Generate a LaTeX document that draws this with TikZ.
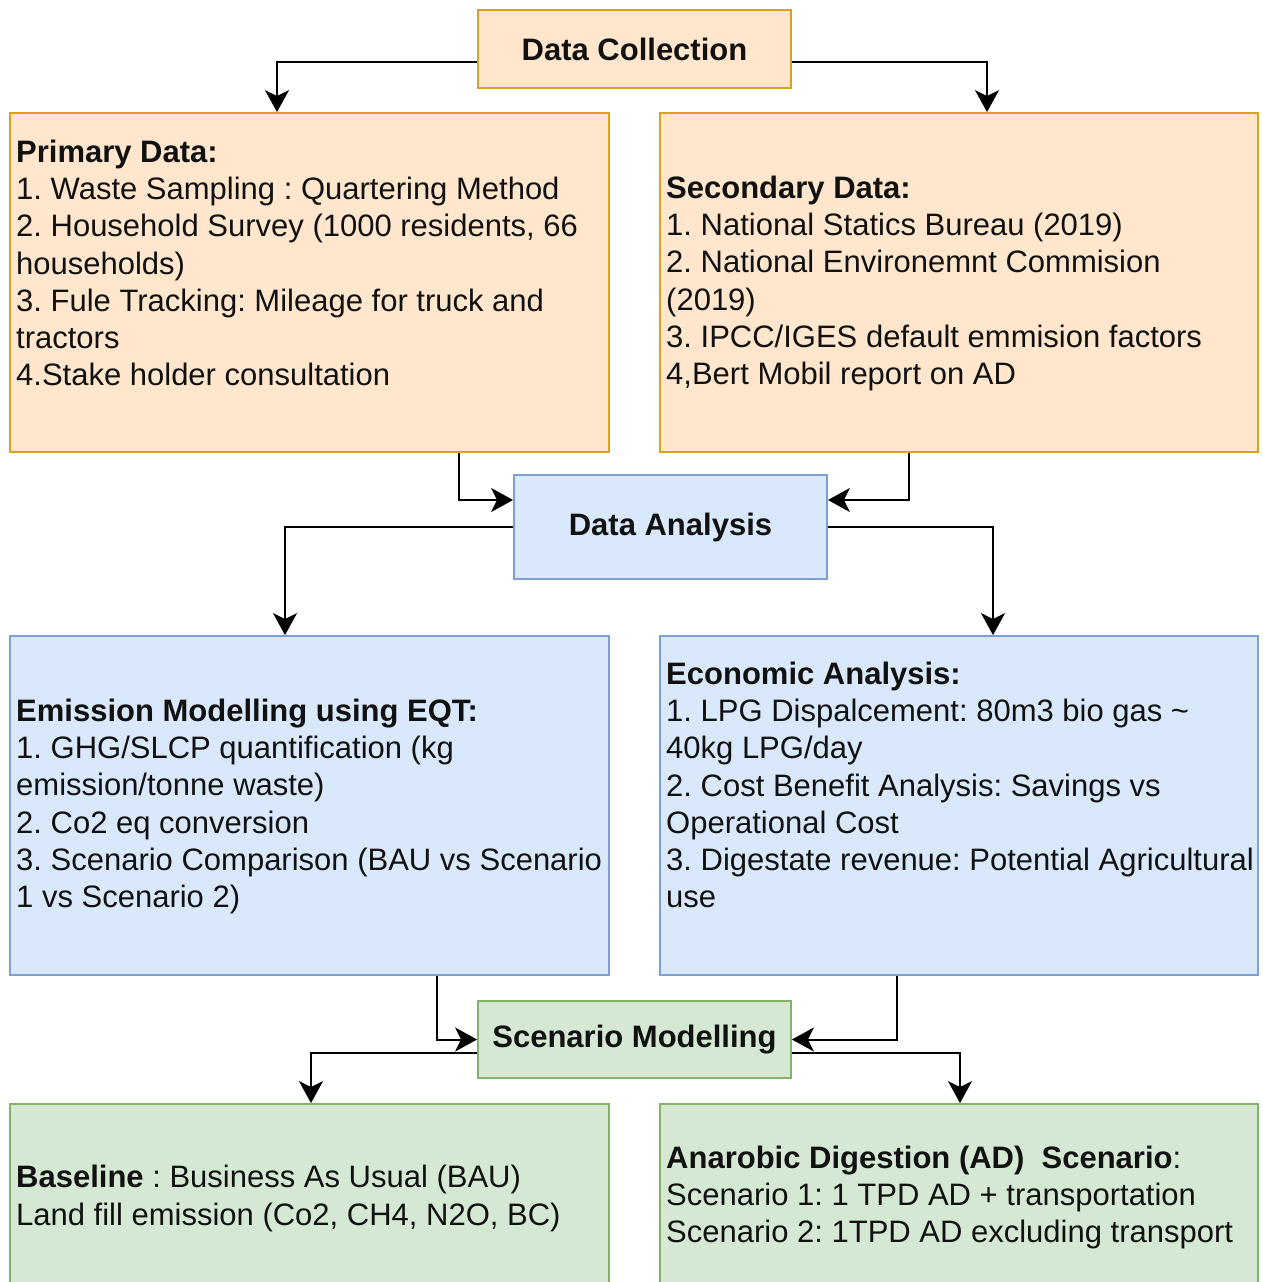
\documentclass[tikz,border=0pt]{standalone}
\usepackage{fontspec}
\setmainfont{Liberation Sans}
\usetikzlibrary{arrows.meta}
\frenchspacing
\definecolor{ofill}{HTML}{FFE6CC}
\definecolor{ostroke}{HTML}{DBA11E}
\definecolor{bfill}{HTML}{DAE8FC}
\definecolor{bstroke}{HTML}{7C9FD4}
\definecolor{gfill}{HTML}{D5E8D4}
\definecolor{gstroke}{HTML}{82B366}
\definecolor{txt}{HTML}{111111}
\tikzset{
  boxbase/.style={rectangle, line width=1.8pt, inner sep=0pt, text=txt,
    font=\fontsize{31}{37.2}\selectfont\bfseries},
  orangebox/.style={boxbase, draw=ostroke, fill=ofill},
  bluebox/.style={boxbase, draw=bstroke, fill=bfill},
  greenbox/.style={boxbase, draw=gstroke, fill=gfill},
  body/.style={anchor=north west, inner sep=0pt, align=left, text=txt,
    font=\fontsize{31}{37.25}\selectfont\frenchspacing},
  arr/.style={line width=2pt, draw=black,
    -{Stealth[length=22pt,width=24pt,inset=6pt]}},
}
\begin{document}
\begin{tikzpicture}[x=1pt,y=-1pt]
\path[use as bounding box, clip] (0,0) rectangle (1263,1282);
\fill[white] (0,0) rectangle (1263,1282);

% boxes
\node[orangebox, minimum width=313pt, minimum height=78pt] (dc) at (634.5,49) {Data Collection};
\node[orangebox, minimum width=599pt, minimum height=339pt] (prim) at (309.5,282.5) {};
\node[orangebox, minimum width=598pt, minimum height=339pt] (sec) at (959,282.5) {};
\node[bluebox, minimum width=313pt, minimum height=104pt] (da) at (670.5,527) {Data Analysis};
\node[bluebox, minimum width=599pt, minimum height=339pt] (emis) at (309.5,805.5) {};
\node[bluebox, minimum width=598pt, minimum height=339pt] (econ) at (959,805.5) {};
\node[greenbox, minimum width=313pt, minimum height=77pt] (scen) at (634.5,1039.5) {Scenario Modelling};
\node[greenbox, minimum width=599pt, minimum height=339pt] (bau) at (309.5,1273.5) {};
\node[greenbox, minimum width=598pt, minimum height=339pt] (ad) at (959,1273.5) {};

% texts
\node[body] (primtxt) at (16,136) {\strut\textbf{Primary Data:}\\
1. Waste Sampling : Quartering Method\\
2. Household Survey (1000 residents, 66\\
households)\\
3. Fule Tracking: Mileage for truck and\\
tractors\\
4.Stake holder consultation};

\node[body] (sectxt) at (666,172) {\strut\textbf{Secondary Data:}\\
1. National Statics Bureau (2019)\\
2. National Environemnt Commision\\
(2019)\\
3. IPCC/IGES default emmision factors\\
4,Bert Mobil report on AD};

\node[body] (emistxt) at (16,695) {\strut\textbf{Emission Modelling using EQT:}\\
1. GHG/SLCP quantification (kg\\
emission/tonne waste)\\
2. Co2 eq conversion\\
3. Scenario Comparison (BAU vs Scenario\\
1 vs Scenario 2)};

\node[body] (econtxt) at (666,658) {\strut\textbf{Economic Analysis:}\\
1. LPG Dispalcement: 80m3 bio gas \textasciitilde\\
40kg LPG/day\\
2. Cost Benefit Analysis: Savings vs\\
Operational Cost\\
3. Digestate revenue: Potential Agricultural\\
use};

\node[body, font=\fontsize{31}{38.6}\selectfont\frenchspacing] (bautxt) at (16,1160) {\strut\textbf{Baseline} : Business As Usual (BAU)\\
Land fill emission (Co2, CH4, N2O, BC)};

\node[body] (adtxt) at (666,1142) {\strut\textbf{Anarobic Digestion (AD)\ \ Scenario}:\\
Scenario 1: 1 TPD AD + transportation\\
Scenario 2: 1TPD AD excluding transport};

% connectors
\draw[arr] ([yshift=-13pt]dc.west) -| ([xshift=-32.5pt]prim.north);
\draw[arr] ([yshift=-13pt]dc.east) -| ([xshift=28pt]sec.north);
\draw[arr] ([xshift=149.5pt]prim.south) |- ([yshift=27pt]da.west);
\draw[arr] ([xshift=-50pt]sec.south) |- ([yshift=27pt]da.east);
\draw[arr] (da.west) -| ([xshift=-24.5pt]emis.north);
\draw[arr] (da.east) -| ([xshift=34pt]econ.north);
\draw[arr] ([xshift=127.5pt]emis.south) |- (scen.west);
\draw[arr] ([xshift=-62pt]econ.south) |- (scen.east);
\draw[arr] ([yshift=-13pt]scen.west) -| ([xshift=1.5pt]bau.north);
\draw[arr] ([yshift=-13pt]scen.east) -| ([xshift=1pt]ad.north);
\end{tikzpicture}
\end{document}
